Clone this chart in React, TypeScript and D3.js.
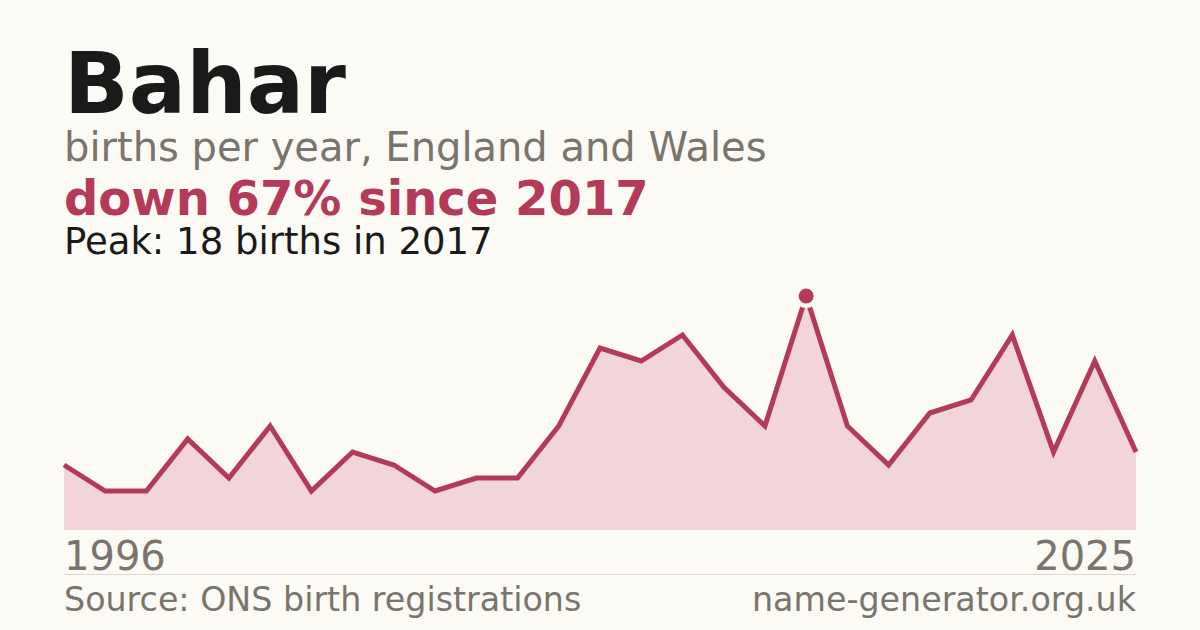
import React from 'react';
import * as d3 from 'd3';

// births per year (years with fewer than 3 births are not published)
const years: number[] = [1996, 1998, 1999, 2000, 2001, 2002, 2004, 2005, 2006, 2008, 2009, 2010, 2011, 2012, 2013,
  2014, 2015, 2016, 2017, 2018, 2019, 2020, 2021, 2022, 2023, 2024, 2025];
const births: number[] = [5, 3, 3, 7, 4, 8, 3, 6, 5, 3, 4, 4, 8, 14, 13, 15, 11, 8, 18, 8, 5, 9, 10, 15, 6, 13, 6];

const W = 1200;
const H = 630;
const left = 64;
const right = 1136;
const font = '"DejaVu Sans", sans-serif';
const crimson = '#b33a58';
const grey = '#7a756c';
const bg = '#fbfaf5';

const App = () => {
  const x = d3.scaleLinear().domain([0, years.length - 1]).range([left, right]);
  const y = d3.scaleLinear().domain([0, d3.max(births) as number]).range([530, 296]);

  const area = d3.area<number>()
    .x((d, i) => x(i))
    .y0(y(0))
    .y1(d => y(d));
  const line = d3.line<number>()
    .x((d, i) => x(i))
    .y(d => y(d));

  const peak = d3.maxIndex(births);
  const last = births[births.length - 1];
  const drop = Math.round((1 - last / births[peak]) * 100);

  return (
    <svg width={W} height={H} style={{ display: 'block', position: 'absolute', left: 0, top: 0 }}>
      <rect width={W} height={H} fill={bg} />
      <text x={left} y={113} fontFamily={font} fontWeight="bold" fontSize={85} fill="#1a1a1a">Bahar</text>
      <text x={left} y={161} fontFamily={font} fontSize={40} fill={grey}>births per year, England and Wales</text>
      <text x={left} y={214.5} fontFamily={font} fontWeight="bold" fontSize={48} fill={crimson}>
        down {drop}% since {years[peak]}
      </text>
      <text x={left} y={254} fontFamily={font} fontSize={37} fill="#1a1a1a">
        Peak: {births[peak]} births in {years[peak]}
      </text>

      <path d={area(births) as string} fill="#f2d5db" />
      <path d={line(births) as string} fill="none" stroke={crimson} strokeWidth={5} strokeLinejoin="miter" />
      {/* halo around the peak dot */}
      <circle cx={x(peak)} cy={y(births[peak])} r={12} fill={bg} />
      <circle cx={x(peak)} cy={y(births[peak])} r={7.5} fill={crimson} />

      <text x={left} y={570} fontFamily={font} fontSize={40} fill={grey}>{years[0]}</text>
      <text x={right} y={570} fontFamily={font} fontSize={40} fill={grey} textAnchor="end">{years[years.length - 1]}</text>
      <line x1={left} x2={right} y1={574.5} y2={574.5} stroke="#dcd9d2" strokeWidth={1} />
      <text x={left} y={611} fontFamily={font} fontSize={33.3} fill={grey}>Source: ONS birth registrations</text>
      <text x={right} y={611} fontFamily={font} fontSize={33.3} fill={grey} textAnchor="end">name-generator.org.uk</text>
    </svg>
  );
};

export default App;
